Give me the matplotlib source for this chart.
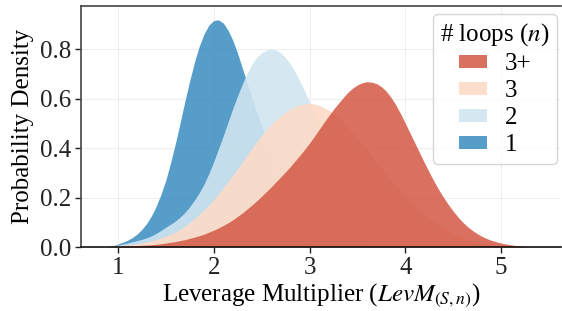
import matplotlib; matplotlib.use("Agg")
import matplotlib.pyplot as plt
import numpy as np
from matplotlib.patches import Patch

plt.rcParams["font.family"] = ["Liberation Serif", "DejaVu Serif"]
plt.rcParams["mathtext.fontset"] = "stix"

# density curves every 0.05 on the leverage multiplier axis
X1 = np.round(np.arange(0.90, 3.701, 0.05), 2)
D1 = [0.0, 0.005, 0.012, 0.019, 0.027, 0.038, 0.052, 0.071, 0.095, 0.126, 0.165, 0.213, 0.27, 0.34,
      0.418, 0.503, 0.59, 0.673, 0.748, 0.812, 0.862, 0.897, 0.915, 0.918, 0.905, 0.876, 0.835,
      0.782, 0.722, 0.661, 0.60, 0.544, 0.49, 0.436, 0.385, 0.338, 0.295, 0.254, 0.215, 0.181,
      0.15, 0.123, 0.10, 0.08, 0.063, 0.049, 0.038, 0.029, 0.021, 0.015, 0.011, 0.008, 0.005,
      0.003, 0.002, 0.001, 0.0]
X2 = np.round(np.arange(0.90, 4.401, 0.05), 2)
D2 = [0.0, 0.004, 0.008, 0.012, 0.016, 0.021, 0.026, 0.031, 0.037, 0.045, 0.055, 0.067, 0.08, 0.092,
      0.105, 0.121, 0.14, 0.163, 0.19, 0.22, 0.255, 0.297, 0.345, 0.397, 0.45, 0.505, 0.56, 0.612,
      0.66, 0.703, 0.74, 0.767, 0.785, 0.796, 0.80, 0.796, 0.785, 0.765, 0.74, 0.707, 0.67, 0.629,
      0.585, 0.543, 0.50, 0.455, 0.41, 0.369, 0.33, 0.292, 0.255, 0.221, 0.19, 0.161, 0.135, 0.112,
      0.092, 0.075, 0.06, 0.048, 0.037, 0.029, 0.022, 0.016, 0.012, 0.008, 0.006, 0.004, 0.002,
      0.001, 0.0]
X3 = np.round(np.arange(0.90, 5.301, 0.05), 2)
D3 = [0.0, 0.002, 0.004, 0.006, 0.008, 0.010, 0.013, 0.016, 0.02, 0.025, 0.03, 0.036, 0.043, 0.051,
      0.06, 0.072, 0.085, 0.099, 0.115, 0.132, 0.15, 0.169, 0.19, 0.214, 0.24, 0.265, 0.29, 0.317,
      0.345, 0.373, 0.40, 0.426, 0.45, 0.473, 0.495, 0.513, 0.53, 0.545, 0.558, 0.567, 0.575, 0.579,
      0.58, 0.578, 0.573, 0.564, 0.553, 0.539, 0.523, 0.505, 0.485, 0.463, 0.44, 0.416, 0.392, 0.368,
      0.343, 0.319, 0.295, 0.271, 0.248, 0.226, 0.205, 0.185, 0.165, 0.147, 0.13, 0.114, 0.10, 0.087,
      0.075, 0.064, 0.054, 0.046, 0.038, 0.032, 0.026, 0.021, 0.017, 0.014, 0.011, 0.008, 0.006,
      0.004, 0.003, 0.002, 0.001, 0.0, 0.0]
X3P = np.round(np.arange(0.90, 5.301, 0.05), 2)
D3P = [0.0, 0.001, 0.002, 0.003, 0.004, 0.005, 0.006, 0.007, 0.008, 0.009, 0.011, 0.013, 0.016, 0.019,
       0.022, 0.026, 0.03, 0.035, 0.04, 0.046, 0.052, 0.06, 0.068, 0.077, 0.087, 0.098, 0.11, 0.124,
       0.138, 0.154, 0.17, 0.187, 0.205, 0.224, 0.243, 0.263, 0.283, 0.304, 0.325, 0.348, 0.371,
       0.395, 0.42, 0.447, 0.475, 0.503, 0.53, 0.556, 0.58, 0.603, 0.625, 0.642, 0.655, 0.664, 0.668,
       0.666, 0.66, 0.648, 0.63, 0.605, 0.575, 0.539, 0.50, 0.46, 0.42, 0.38, 0.34, 0.302, 0.265,
       0.231, 0.20, 0.171, 0.145, 0.121, 0.10, 0.082, 0.067, 0.054, 0.043, 0.034, 0.027, 0.021,
       0.016, 0.012, 0.009, 0.006, 0.004, 0.002, 0.0]

LABELS = ["1", "2", "3", "3+"]
SERIES = [(X1, D1), (X2, D2), (X3, D3), (X3P, D3P)]
COLORS = ["#4393c3", "#d1e5f0", "#fddbc7", "#d6604d"]

fig = plt.figure(figsize=(5.62, 3.11), dpi=100)
ax = fig.add_axes([81/562, 1-247/311, 480/562, 241/311])
for (x, d), c in zip(SERIES, COLORS):
    ax.fill_between(x, 0, d, color=c, alpha=0.9, lw=0, zorder=2)

ax.set_xlim(0.615, 5.625); ax.set_ylim(0, 0.974)
ax.set_xticks([1, 2, 3, 4, 5]); ax.set_yticks([0.0, 0.2, 0.4, 0.6, 0.8])
ax.set_yticklabels(["0.0", "0.2", "0.4", "0.6", "0.8"])
ax.grid(color="#eeeeee", lw=0.8, zorder=0); ax.set_axisbelow(True)
ax.tick_params(labelsize=18, length=4, width=1, colors="#222222", pad=3)
for s in ["left", "top", "bottom"]:
    ax.spines[s].set_color("#444444"); ax.spines[s].set_linewidth(1.2)
ax.spines["bottom"].set_color("#111111")
ax.spines["right"].set_visible(False)
ax.set_xlabel(r"Leverage Multiplier ($LevM_{(S,n)}$)", fontsize=18, labelpad=2)
ax.set_ylabel("Probability Density", fontsize=18, labelpad=4)

handles = [Patch(facecolor=c, alpha=0.9, lw=0) for c in COLORS][::-1]
leg = ax.legend(handles, LABELS[::-1], title=r"# loops ($n$)", loc="upper right", fontsize=18,
                title_fontsize=18, frameon=True, fancybox=True, edgecolor="#cccccc",
                handlelength=1.15, handleheight=0.4, labelspacing=0.2, borderpad=0.3,
                handletextpad=0.7, borderaxespad=0, bbox_to_anchor=(0.992, 0.967))
leg.get_frame().set_linewidth(1.0)
fig.savefig("out.png", dpi=100)
